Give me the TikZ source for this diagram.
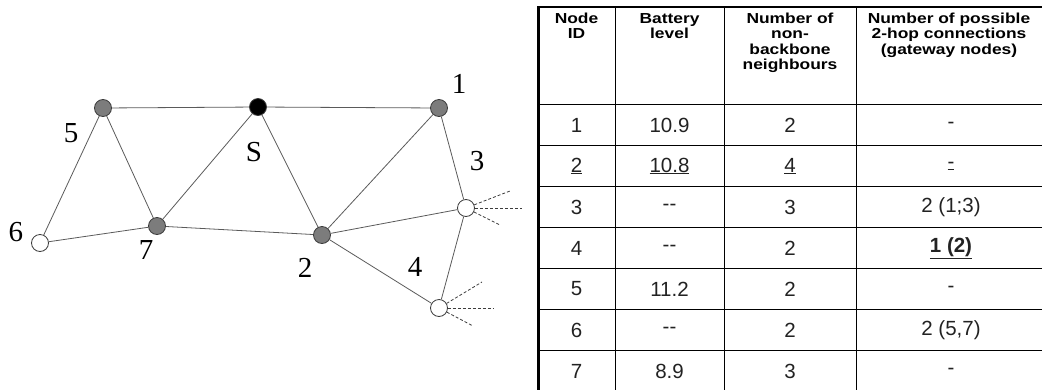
\documentclass[tikz,border=0pt]{standalone}
\usepackage{fontspec}
\setmainfont{Liberation Serif}
\newfontfamily\tabfont{Liberation Sans}
\newfontfamily\headfont[FakeStretch=1.2]{Liberation Sans}

\definecolor{linkgray}{HTML}{5A5A5A}
\definecolor{dotline}{HTML}{3C3C3C}
\definecolor{relaygray}{HTML}{7C7C7C}
\definecolor{celltext}{HTML}{222222}

\newcommand{\nobat}{-{}-}
% stacked header lines, one every 15.6pt
\newcommand{\hdlines}[1]{\begin{tabular}{@{}c@{}}#1\end{tabular}}

\begin{document}
\begin{tikzpicture}[x=1pt, y=-1pt,
    link/.style={draw=linkgray, line width=0.8pt},
    stub/.style={draw=dotline, line width=0.8pt, dash pattern=on 3pt off 2pt},
    dot/.style={circle, draw=dotline, line width=0.8pt, minimum size=17pt, inner sep=0pt},
    relay/.style={dot, fill=relaygray},
    src/.style={dot, fill=black},
    plain/.style={dot, fill=white},
    lbl/.style={inner sep=0pt, font=\fontsize{29}{29}\selectfont},
    hcell/.style={anchor=north, inner sep=0pt,
                  font=\headfont\bfseries\fontsize{14.5}{15.6}\selectfont},
    cell/.style={inner sep=0pt, text=celltext, font=\tabfont\fontsize{20.5}{24}\selectfont}]
  \useasboundingbox (0,0) rectangle (1042,389);

  % network
  \node[relay] (n5) at (103,108) {};
  \node[src]   (s)  at (258,107) {};
  \node[relay] (n1) at (439,108) {};
  \node[relay] (n7) at (157,226) {};
  \node[relay] (n2) at (322,235) {};
  \node[plain] (n6) at (40,243) {};
  \node[plain] (n3) at (466,208) {};
  \node[plain] (n4) at (439,308) {};

  \node[lbl] (l5) at (71,133) {5};
  \node[lbl] (ls) at (254,152) {S};
  \node[lbl] (l1) at (459,84) {1};
  \node[lbl] (l3) at (477,161) {3};
  \node[lbl] (l6) at (16,232) {6};
  \node[lbl] (l7) at (146,250) {7};
  \node[lbl] (l2) at (305,268) {2};
  \node[lbl] (l4) at (415,267) {4};

  \draw[link] (n5) -- (s);
  \draw[link] (s) -- (n1);
  \draw[link] (n5) -- (n6);
  \draw[link] (n5) -- (n7);
  \draw[link] (s) -- (n7);
  \draw[link] (s) -- (n2);
  \draw[link] (n1) -- (n2);
  \draw[link] (n1) -- (n3);
  \draw[link] (n6) -- (n7);
  \draw[link] (n7) -- (n2);
  \draw[link] (n2) -- (n3);
  \draw[link] (n2) -- (n4);
  \draw[link] (n3) -- (n4);

  % links leaving towards nodes outside the view
  \coordinate (d3a) at (510,191);
  \coordinate (d3b) at (522,208);
  \coordinate (d3c) at (500,225);
  \coordinate (d4a) at (482,282);
  \coordinate (d4b) at (493,308);
  \coordinate (d4c) at (473,326);
  \foreach \e in {d3a,d3b,d3c} \draw[stub] (n3) -- (\e);
  \foreach \e in {d4a,d4b,d4c} \draw[stub] (n4) -- (\e);

  % table
  \draw[line width=0.8pt] (615,7) -- (615,395);
  \draw[line width=0.8pt] (724,7) -- (724,395);
  \draw[line width=0.8pt] (856,7) -- (856,395);
  \foreach \k in {0,...,6}
    \draw[line width=0.8pt] (538,104+41*\k) -- (1050,104+41*\k);
  \draw[line width=2pt] (537,7) -- (1050,7);
  \draw[line width=3pt] (538,6) -- (538,395);

  \node[hcell] (hid)  at (576.5,12) {\hdlines{Node\\ID}};
  \node[hcell] (hbat) at (669.5,12) {\hdlines{Battery\\level}};
  \node[hcell] (hnb)  at (790,12)   {\hdlines{Number of\\non-\\backbone\\neighbours}};
  \node[hcell] (hgw)  at (949,12)   {\hdlines{Number of possible\\2-hop connections\\(gateway nodes)}};

  \foreach \id/\bat/\nb/\gw [count=\i from 0] in {
      1/10.9/2/-,
      {\underline{2}}/{\underline{10.8}}/{\underline{4}}/{\underline{-}},
      3/\nobat/3/{2 (1;3)},
      4/\nobat/2/{\textbf{\underline{1 (2)}}},
      5/11.2/2/-,
      6/\nobat/2/{2 (5,7)},
      7/8.9/3/-} {
    \node[cell] (id-\i)  at (576.5,125+41*\i) {\id};
    \node[cell] (bat-\i) at (669.5,125+41*\i) {\bat};
    \node[cell] (nb-\i)  at (790,125+41*\i)   {\nb};
    \node[cell] (gw-\i)  at (951,125+41*\i)   {\gw};
  }
\end{tikzpicture}
\end{document}
